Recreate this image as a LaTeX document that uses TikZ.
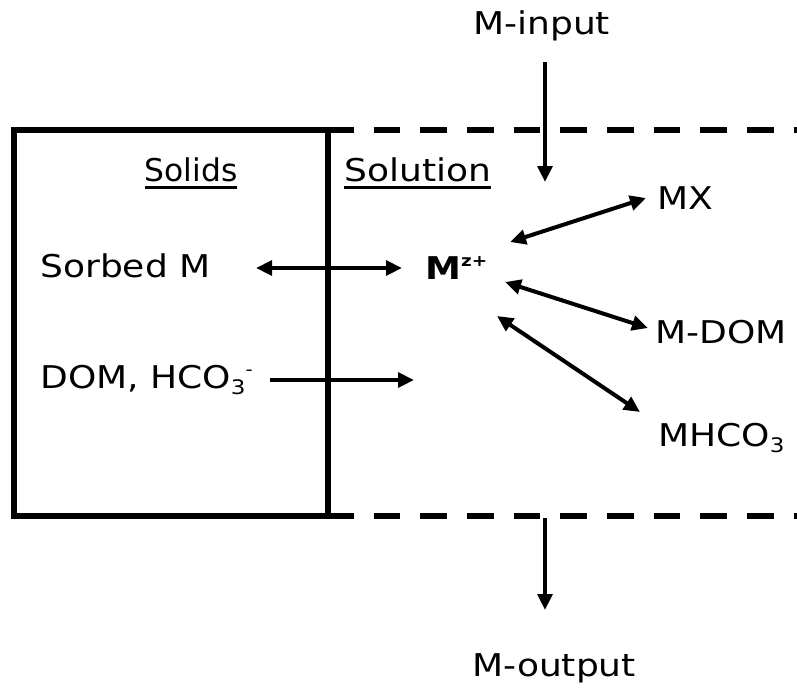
\documentclass[tikz,border=0pt]{standalone}
\usepackage{fontspec}
\setmainfont{DejaVu Sans}[FakeStretch=1.15]
\newfontfamily\plainfont{DejaVu Sans}
\usetikzlibrary{arrows.meta}
\newcommand{\subthree}{\raisebox{-4.5pt}{\fontsize{15}{15}\selectfont 3}}
\newcommand{\thickul}[1]{\setbox0\hbox{#1}\rlap{\rule[-5.5pt]{\wd0}{2.2pt}}\box0}
\begin{document}
\begin{tikzpicture}[x=0.75pt,y=-0.75pt,
  lbl/.style={inner sep=0pt,anchor=west,font=\fontsize{23.5}{26}\selectfont},
  wall/.style={line width=3.8pt},
  dwall/.style={line width=3.8pt,dash pattern=on 20pt off 15pt},
  arr/.style={line width=3pt,-{Triangle[length=12pt,width=11pt]}},
  darr/.style={line width=3pt,{Triangle[length=12pt,width=11pt]}-{Triangle[length=12pt,width=11pt]}}]
\useasboundingbox (0,0) rectangle (797,694);
\draw[wall] (14,130) rectangle (328,516);
\coordinate (d1s) at (327,130); \coordinate (d1e) at (820,130);
\coordinate (d2s) at (327,516); \coordinate (d2e) at (820,516);
\draw[dwall] (d1s) -- (d1e);
\draw[dwall] (d2s) -- (d2e);
\node[lbl] (min) at (473,26) {M-input};
\node[lbl] (mout) at (472,668) {M-output};
\node[lbl,anchor=center] (sol) at (191,173) {\plainfont\thickul{Solids}};
\node[lbl] (solu) at (344,173) {\thickul{Solution}};
\node[lbl] (sm) at (40,266) {Sorbed M};
\node[lbl] (mz) at (425,268) {\textbf{M}\raisebox{9.5pt}{\fontsize{12}{12}\selectfont\bfseries z+}};
\node[lbl] (mx) at (657,198) {MX};
\node[lbl] (mdom) at (655,332) {M-DOM};
\node[lbl] (mh) at (658,438) {MHCO\subthree};
\node[lbl] (dom) at (40,380) {DOM, HCO\subthree\raisebox{10pt}{\fontsize{13}{13}\selectfont -}};
\coordinate (a1) at (545,62); \coordinate (a2) at (545,182);
\draw[arr] (a1) -- (a2);
\coordinate (b1) at (545,518); \coordinate (b2) at (545,610);
\draw[arr] (b1) -- (b2);
\coordinate (c1) at (256,268); \coordinate (c2) at (402,268);
\draw[darr] (c1) -- (c2);
\coordinate (e1) at (270,380); \coordinate (e2) at (414,380);
\draw[arr] (e1) -- (e2);
\coordinate (f1) at (510,242); \coordinate (f2) at (646,198);
\draw[darr] (f1) -- (f2);
\coordinate (g1) at (505,282); \coordinate (g2) at (648,328);
\draw[darr] (g1) -- (g2);
\coordinate (h1) at (497,316); \coordinate (h2) at (640,412);
\draw[darr] (h1) -- (h2);
\end{tikzpicture}
\end{document}
